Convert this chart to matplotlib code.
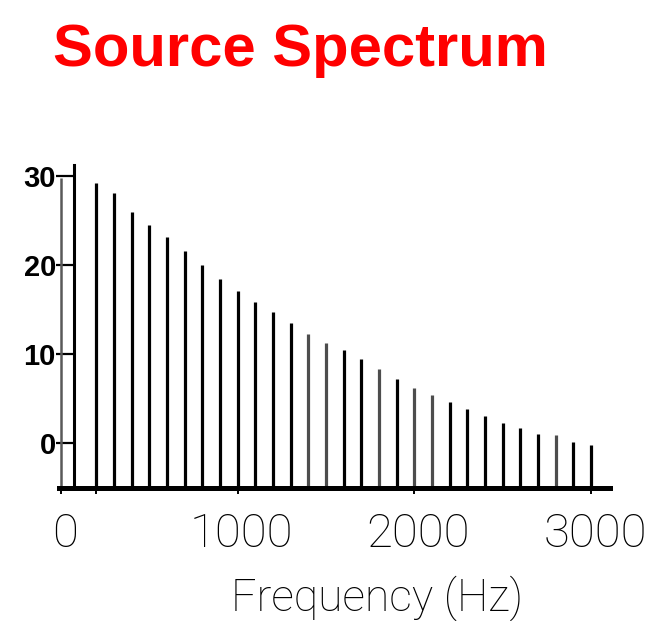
import numpy as np
import matplotlib
matplotlib.use("Agg")
import matplotlib.pyplot as plt
from matplotlib.transforms import ScaledTranslation

# harmonic frequencies (Hz) and their levels (dB)
freqs = [200, 300, 400, 500, 600, 700, 800, 900, 1000,
         1100, 1200, 1300, 1400, 1500, 1600, 1700, 1800, 1900, 2000,
         2100, 2200, 2300, 2400, 2500, 2600, 2700, 2800, 2900, 3000]
levels = [29.2, 28.1, 26.0, 24.5, 23.1, 21.6, 20.0, 18.4, 17.1,
          15.8, 14.7, 13.5, 12.3, 11.2, 10.4, 9.4, 8.3, 7.2, 6.2,
          5.4, 4.6, 3.8, 3.0, 2.2, 1.7, 1.0, 0.9, 0.1, -0.2]
# some of the lines came out faint in the original print
faint = [1400, 1500, 1800, 2000, 2100, 2800]

# the line sitting on the frequency origin
dc_level = 29.8

xticks = [0, 1000, 2000, 3000]
yticks = [0, 10, 20, 30]

fig = plt.figure(figsize=(6.51, 6.21), dpi=100)
W, H = 651, 621
ax = fig.add_axes([59 / W, (H - 488) / H, 551 / W, (488 - 165.3) / H])
ax.set_xlim(-11, 3108)
ax.set_ylim(-5.05, 31.2)

base = -5.05
for f, lv in zip(freqs, levels):
    c = '0.3' if f in faint else 'black'
    ax.vlines(f, base, lv, color=c, lw=2.3)
ax.vlines(0, base, dc_level, color='0.35', lw=1.8)

for s in ['top', 'right']:
    ax.spines[s].set_visible(False)
ax.spines['left'].set_position(('data', 74))
ax.spines['left'].set_linewidth(2.2)
ax.spines['bottom'].set_linewidth(3.6)

ax.set_yticks(yticks)
ax.set_yticklabels([str(v) for v in yticks],
                   fontdict={'family': 'Liberation Sans', 'weight': 'bold', 'size': 21})
ax.tick_params(axis='y', direction='out', length=13, width=1.6, pad=0)

ax.set_xticks(xticks)
ax.set_xticks([200], minor=True)
ax.set_xticklabels([str(v) for v in xticks],
                   fontdict={'family': ['Roboto', 'Liberation Sans'], 'weight': 'light', 'size': 34})
ax.tick_params(axis='x', which='both', direction='out', length=4, width=1.4, pad=13)
for lab in ax.get_xticklabels():
    lab.set_transform(lab.get_transform() + ScaledTranslation(0.04, 0, fig.dpi_scale_trans))

fig.text(377 / W, 1 - 598 / H, 'Frequency (Hz)', ha='center', va='center',
         family=['Roboto', 'Liberation Sans'], weight='light', size=32)
fig.text(53 / W, 1 - 66 / H, 'Source Spectrum', ha='left', va='baseline',
         family='Liberation Sans', weight='bold', size=43, color='red')

fig.savefig('out.png', dpi=100)
